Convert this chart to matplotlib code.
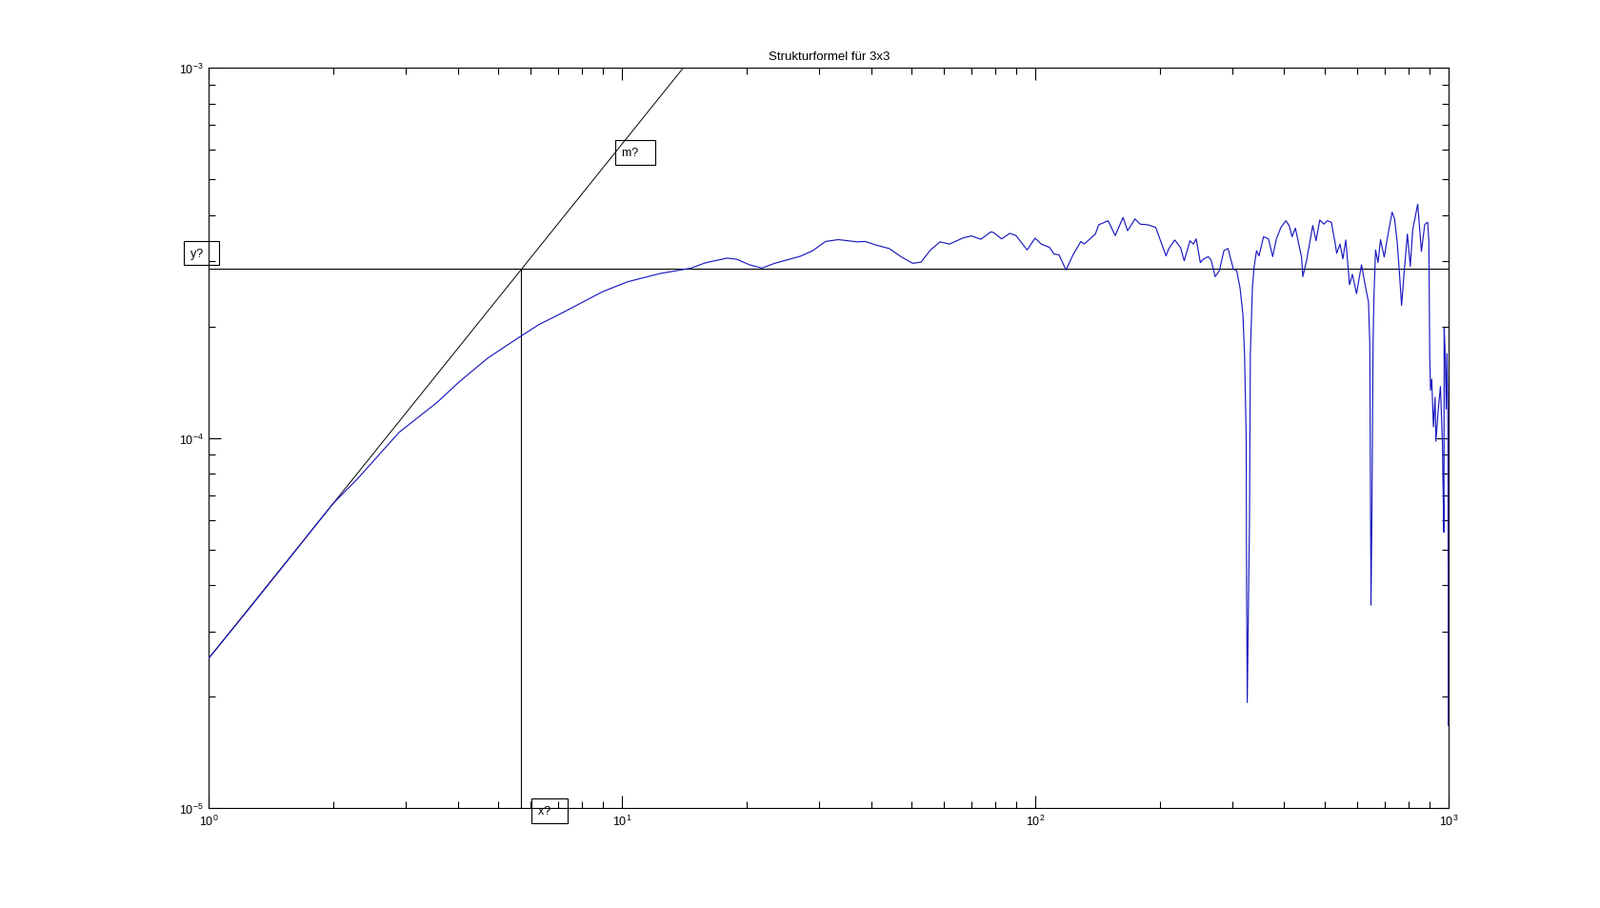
import numpy as np
import matplotlib
matplotlib.use("Agg")
import matplotlib.pyplot as plt

plt.rcParams['font.family'] = ['Liberation Sans', 'DejaVu Sans']
plt.rcParams['mathtext.default'] = 'regular'
plt.rcParams['axes.unicode_minus'] = False

# ---- data (in log10 units) ----
curve_log_x = [
    0.000, 0.099, 0.200, 0.299, 0.360, 0.460, 0.552, 0.606, 0.675, 0.756,
    0.798, 0.860, 0.952, 1.013, 1.090, 1.167, 1.198, 1.208, 1.254, 1.277,
    1.308, 1.338, 1.369, 1.431, 1.461, 1.492, 1.523, 1.569, 1.588, 1.615,
    1.646, 1.676, 1.703, 1.723, 1.746, 1.769, 1.792, 1.826, 1.845, 1.868,
    1.892, 1.899, 1.918, 1.938, 1.953, 1.980, 1.999, 2.014, 2.034, 2.045,
    2.057, 2.074, 2.091, 2.110, 2.118, 2.145, 2.153, 2.176, 2.193, 2.212,
    2.223, 2.241, 2.253, 2.272, 2.291, 2.316, 2.322, 2.337, 2.351, 2.360,
    2.374, 2.382, 2.389, 2.399, 2.406, 2.418, 2.425, 2.435, 2.445, 2.456,
    2.466, 2.479, 2.487, 2.495, 2.502, 2.506, 2.510, 2.511, 2.5125, 2.518,
    2.520, 2.525, 2.529, 2.535, 2.541, 2.552, 2.564, 2.574, 2.583, 2.594,
    2.606, 2.614, 2.621, 2.629, 2.644, 2.647, 2.656, 2.671, 2.679, 2.688,
    2.698, 2.706, 2.716, 2.725, 2.729, 2.737, 2.744, 2.751, 2.760, 2.767,
    2.777, 2.789, 2.798, 2.806, 2.809, 2.811, 2.812, 2.814, 2.817, 2.819,
    2.823, 2.829, 2.835, 2.844, 2.852, 2.863, 2.869, 2.875, 2.880, 2.886,
    2.892, 2.900, 2.907, 2.913, 2.925, 2.934, 2.942, 2.949, 2.952, 2.954,
    2.956, 2.959, 2.963, 2.967, 2.969, 2.975, 2.980, 2.985, 2.986, 2.9885,
    2.989, 2.9915, 2.994, 2.996, 2.998, 2.9993, 3.000,
]
curve_log_y = [
    -4.595, -4.459, -4.318, -4.179, -4.110, -3.985, -3.904, -3.848, -3.784, -3.724,
    -3.694, -3.659, -3.605, -3.578, -3.556, -3.541, -3.528, -3.525, -3.514, -3.517,
    -3.532, -3.541, -3.528, -3.509, -3.494, -3.469, -3.464, -3.470, -3.469, -3.479,
    -3.488, -3.511, -3.528, -3.525, -3.492, -3.470, -3.476, -3.459, -3.454, -3.463,
    -3.443, -3.445, -3.462, -3.447, -3.453, -3.492, -3.460, -3.476, -3.485, -3.503,
    -3.505, -3.546, -3.505, -3.469, -3.476, -3.449, -3.424, -3.413, -3.453, -3.404,
    -3.440, -3.408, -3.422, -3.424, -3.431, -3.508, -3.490, -3.465, -3.485, -3.521,
    -3.467, -3.476, -3.462, -3.526, -3.517, -3.510, -3.519, -3.564, -3.548, -3.494,
    -3.488, -3.544, -3.548, -3.594, -3.666, -3.774, -4.000, -4.406, -4.715, -4.217,
    -3.774, -3.594, -3.539, -3.494, -3.508, -3.456, -3.462, -3.510, -3.462, -3.431,
    -3.413, -3.426, -3.456, -3.433, -3.512, -3.564, -3.521, -3.426, -3.467, -3.411,
    -3.422, -3.413, -3.417, -3.472, -3.501, -3.476, -3.516, -3.465, -3.586, -3.558,
    -3.610, -3.532, -3.588, -3.633, -3.745, -4.217, -4.452, -4.230, -3.747, -3.622,
    -3.492, -3.526, -3.464, -3.511, -3.457, -3.390, -3.408, -3.467, -3.541, -3.642,
    -3.555, -3.449, -3.536, -3.437, -3.368, -3.496, -3.423, -3.417, -3.467, -3.772,
    -3.871, -3.841, -3.970, -3.890, -4.009, -3.920, -3.861, -4.019, -4.107, -4.255,
    -3.703, -3.772, -3.922, -3.772, -3.940, -4.778, -4.300,
]

fit_slope = 1.39          # exponent of the power-law fit line
fit_y_at_1 = 2.54e-5      # fit line value at x = 1
x_cross = 5.70            # intersection x
y_cross = 2.86e-4         # plateau level
x_range = [1, 1000]
y_range = [1e-5, 1e-3]
title = "Strukturformel für 3x3"
labels = ["m?", "y?", "x?"]
label_x = [10.0, 0.9, 6.27]
label_y = [5.9e-4, 3.16e-4, 9.8e-6]

# ---- figure ----
fig = plt.figure(figsize=(16.81, 9.54), dpi=100)
ax = fig.add_axes([0.1305, 0.1101, 0.7744, 0.8141])
ax.set_xscale('log')
ax.set_yscale('log')

cx = 10 ** np.array(curve_log_x)
cy = 10 ** np.array(curve_log_y)
ax.plot(cx, cy, color='#1a1ac0', lw=0.85, zorder=3)

fx = np.logspace(0, 1.3, 50)
ax.plot(fx, fit_y_at_1 * fx ** fit_slope, color='k', lw=0.7, zorder=2)
ax.plot(x_range, [y_cross, y_cross], color='k', lw=0.8, zorder=2)
ax.plot([x_cross, x_cross], [y_range[0], y_cross], color='k', lw=0.8, zorder=2)

ax.set_xlim(x_range)
ax.set_ylim(y_range)

for t, tx, ty in zip(labels, label_x, label_y):
    ax.text(tx, ty, t + "   ", fontsize=9, va='center', ha='left',
            clip_on=False, zorder=4,
            bbox=dict(boxstyle='square,pad=0.55', fc='none', ec='k', lw=0.8))

ax.set_title(title, fontsize=9.5, pad=7)

ax.tick_params(which='both', direction='in', top=True, right=True,
               labelsize=9, width=0.8, pad=4)
ax.tick_params(which='major', length=9.4)
ax.tick_params(which='minor', length=4.7)
for s in ax.spines.values():
    s.set_linewidth(0.8)

fig.savefig("out.png", dpi=100)
